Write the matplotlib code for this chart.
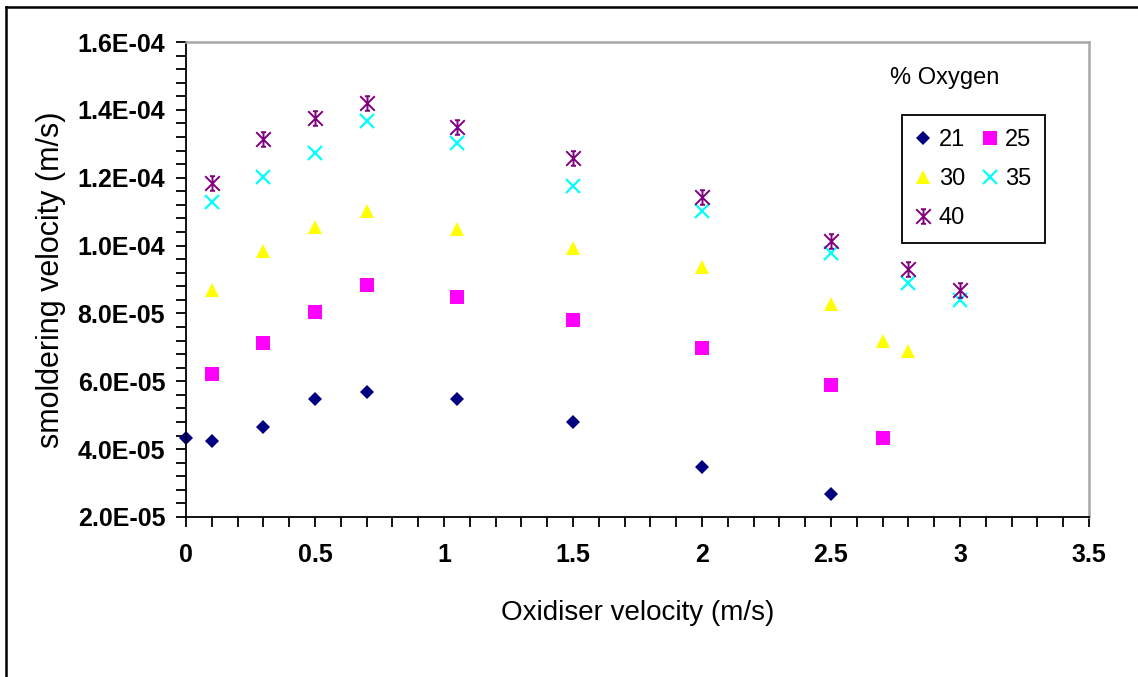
import matplotlib
matplotlib.use("Agg")
import matplotlib.pyplot as plt
from matplotlib.lines import Line2D
from matplotlib.path import Path
from matplotlib.ticker import MultipleLocator, FuncFormatter

plt.rcParams["font.family"] = ["Liberation Sans", "DejaVu Sans"]

# oxidiser velocity (m/s) per oxygen level, smoldering velocity (m/s)
x_21 = [0, 0.1, 0.3, 0.5, 0.7, 1.05, 1.5, 2.0, 2.5]
v_21 = [4.32e-5, 4.24e-5, 4.64e-5, 5.48e-5, 5.68e-5, 5.48e-5, 4.79e-5, 3.48e-5, 2.67e-5]

x_25 = [0.1, 0.3, 0.5, 0.7, 1.05, 1.5, 2.0, 2.5, 2.7]
v_25 = [6.22e-5, 7.13e-5, 8.04e-5, 8.84e-5, 8.48e-5, 7.81e-5, 6.99e-5, 5.89e-5, 4.32e-5]

x_30 = [0.1, 0.3, 0.5, 0.7, 1.05, 1.5, 2.0, 2.5, 2.7, 2.8]
v_30 = [8.69e-5, 9.85e-5, 10.54e-5, 11.01e-5, 10.49e-5, 9.93e-5, 9.38e-5, 8.28e-5, 7.18e-5, 6.90e-5]

x_35 = [0.1, 0.3, 0.5, 0.7, 1.05, 1.5, 2.0, 2.5, 2.8, 3.0]
v_35 = [11.29e-5, 12.03e-5, 12.72e-5, 13.68e-5, 13.01e-5, 11.76e-5, 11.02e-5, 9.79e-5, 8.89e-5, 8.40e-5]

x_40 = [0.1, 0.3, 0.5, 0.7, 1.05, 1.5, 2.0, 2.5, 2.8, 3.0]
v_40 = [11.84e-5, 13.13e-5, 13.75e-5, 14.19e-5, 13.50e-5, 12.59e-5, 11.44e-5, 10.14e-5, 9.30e-5, 8.69e-5]

oxygen_labels = ["21", "25", "30", "35", "40"]

# asterisk marker: X plus a vertical stroke with short caps
star_verts = [(-1, -1), (1, 1), (-1, 1), (1, -1), (0, -1), (0, 1),
              (-0.35, 1), (0.35, 1), (-0.35, -1), (0.35, -1)]
star_codes = [Path.MOVETO, Path.LINETO] * 5
star_marker = Path(star_verts, star_codes)

fig = plt.figure(figsize=(11.38, 6.77), dpi=100)
ax = fig.add_axes([186 / 1138, 1 - 517 / 677, (1089 - 186) / 1138, (517 - 42) / 677])

series = [
    (x_21, v_21, dict(marker="D", ms=7.5, color="#000080", mew=0)),
    (x_25, v_25, dict(marker="s", ms=9.8, color="#FF00FF", mew=0)),
    (x_30, v_30, dict(marker="^", ms=10.5, color="#FFFF00", mew=0)),
    (x_35, v_35, dict(marker="x", ms=9.5, color="#00FFFF", mew=1.6)),
    (x_40, v_40, dict(marker=star_marker, ms=10.5, color="#800080", mew=1.4)),
]
handles = []
for (xs, vs, style), lab in zip(series, oxygen_labels):
    h, = ax.plot(xs, vs, linestyle="none", label=lab, clip_on=False, **style)
    handles.append(h)

ax.set_xlim(0, 3.5)
ax.set_ylim(2e-5, 1.6e-4)
ax.xaxis.set_major_locator(MultipleLocator(0.5))
ax.xaxis.set_minor_locator(MultipleLocator(0.1))
ax.yaxis.set_major_locator(MultipleLocator(2e-5))
ax.yaxis.set_minor_locator(MultipleLocator(4e-6))
ax.xaxis.set_major_formatter(FuncFormatter(lambda v, p: f"{v:g}"))
ax.yaxis.set_major_formatter(FuncFormatter(lambda v, p: f"{v:.1E}"))

ax.tick_params(which="both", direction="out", length=7, width=1.3, color="black")
ax.tick_params(axis="x", which="major", pad=12, labelsize=18)
ax.tick_params(axis="y", which="major", pad=8, labelsize=18)
for t in ax.get_xticklabels() + ax.get_yticklabels():
    t.set_fontweight("bold")

for side in ("left", "bottom"):
    ax.spines[side].set_color("black")
    ax.spines[side].set_linewidth(1.3)
for side in ("top", "right"):
    ax.spines[side].set_color("#a8a8a8")
    ax.spines[side].set_linewidth(1.8)

ax.set_xlabel("Oxidiser velocity (m/s)", fontsize=20)
ax.xaxis.set_label_coords(0.5, -0.175)
ax.set_ylabel("smoldering velocity (m/s)", fontsize=22)
ax.yaxis.set_label_coords(-0.133, 0.5)

# legend filled row by row: 21 25 / 30 35 / 40
order = [0, 2, 4, 1, 3]
leg = ax.legend([handles[i] for i in order], [oxygen_labels[i] for i in order],
                ncol=2, fontsize=17, loc="upper left",
                bbox_to_anchor=(902 / 1138, 1 - 115 / 677), bbox_transform=fig.transFigure,
                borderaxespad=0, borderpad=0.6, handlelength=0.6, handletextpad=0.35,
                columnspacing=0.75, labelspacing=0.72, fancybox=False, framealpha=1)
leg.get_frame().set_edgecolor("black")
leg.get_frame().set_linewidth(1.3)

fig.text(945 / 1138, 1 - 78 / 677, "% Oxygen", fontsize=17, ha="center", va="center")

# outer frame of the figure
fig.add_artist(Line2D([6 / 1138, 1], [1 - 7 / 677, 1 - 7 / 677], color="black", lw=1.8))
fig.add_artist(Line2D([6 / 1138, 6 / 1138], [0, 1 - 7 / 677], color="black", lw=1.8))

fig.savefig("out.png", dpi=100)
